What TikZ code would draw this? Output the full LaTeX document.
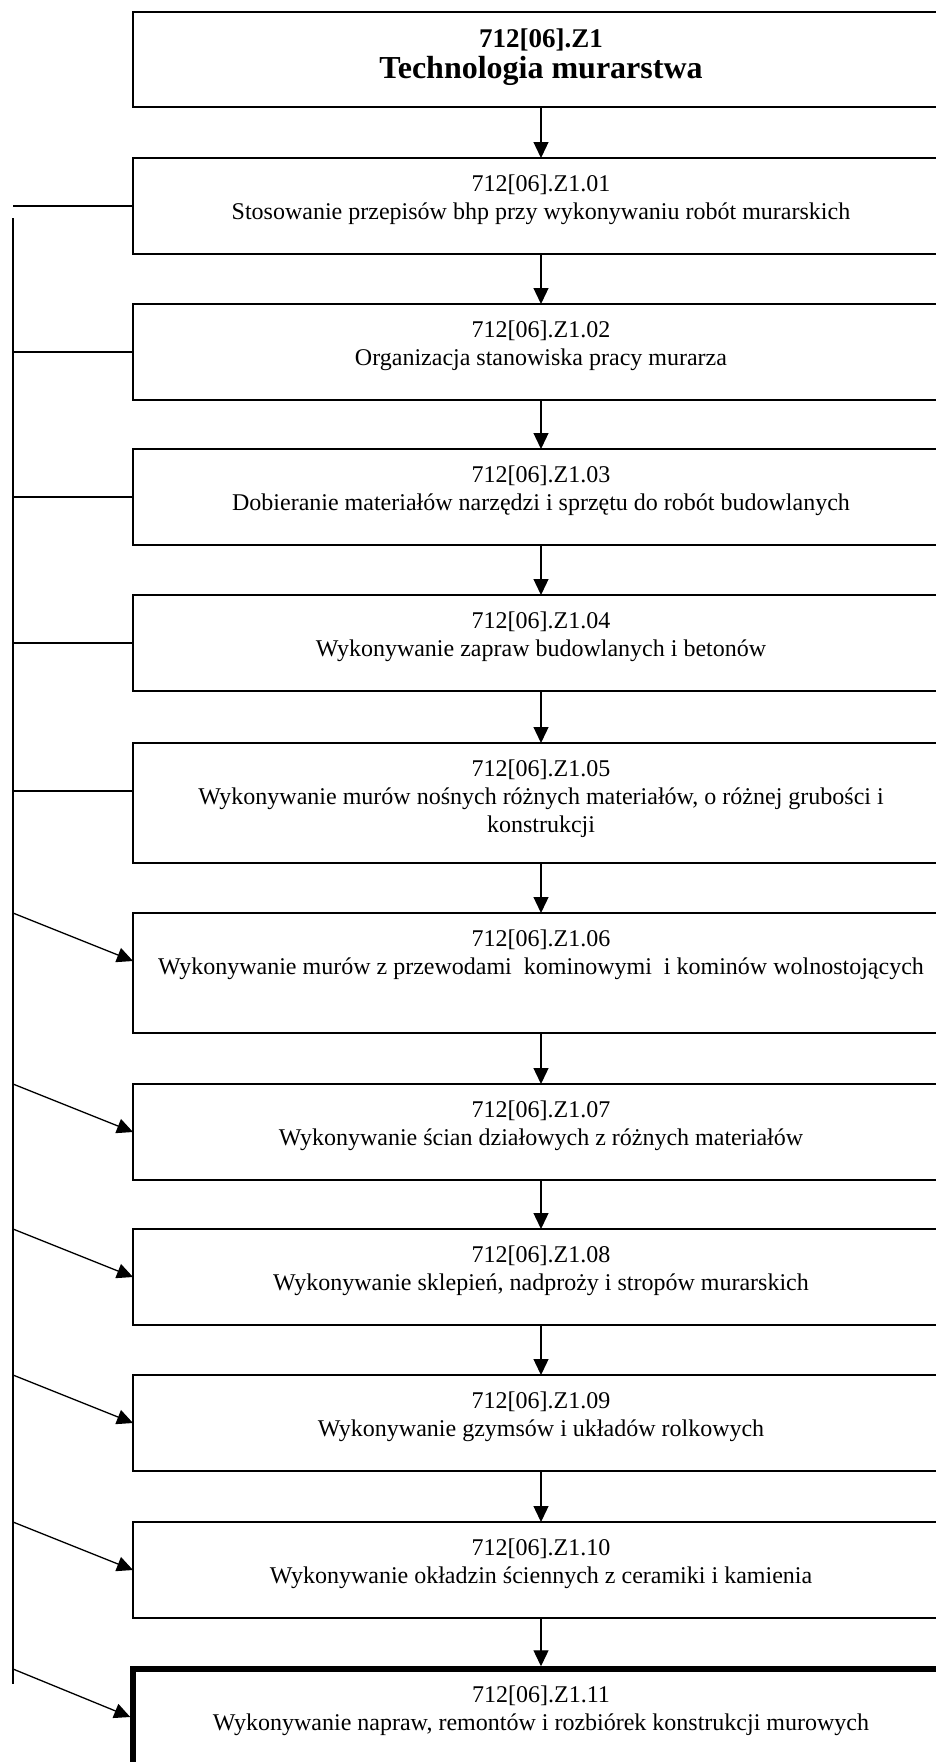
\documentclass[tikz,border=0pt]{standalone}
\usepackage{fontspec}
\setmainfont{Liberation Serif}
\usetikzlibrary{arrows.meta,calc}
\tikzset{
  box/.style={draw, line width=1.5pt, inner sep=0pt, outer sep=0pt, anchor=north west},
  thickbox/.style={box, line width=5.5pt},
  arr/.style={line width=1.3pt, -{Triangle[length=16pt,width=15pt]}},
  link/.style={line width=1.3pt},
}
\newcommand{\bxtext}[2]{\parbox[c][#1][t]{816pt}{\centering\fontsize{24}{28}\selectfont\rule{0pt}{33pt}#2\par}}
\begin{document}
\begin{tikzpicture}[x=1pt,y=-1pt]
\useasboundingbox (0,0) rectangle (936,1762);
\clip (0,0) rectangle (936,1762);

\node[box] (t) at (133,12) {\parbox[c][95pt][t]{816pt}{\centering\bfseries\rule{0pt}{35pt}{\fontsize{27}{27}\selectfont 712[06].Z1}\\\fontsize{32}{31}\selectfont Technologia murarstwa\par}};

\node[box] (b1) at (133,158) {\bxtext{96pt}{712[06].Z1.01\\Stosowanie przepisów bhp przy wykonywaniu robót murarskich}};
\node[box] (b2) at (133,304) {\bxtext{96pt}{712[06].Z1.02\\Organizacja stanowiska pracy murarza}};
\node[box] (b3) at (133,449) {\bxtext{96pt}{712[06].Z1.03\\Dobieranie materiałów narzędzi i sprzętu do robót budowlanych}};
\node[box] (b4) at (133,595) {\bxtext{96pt}{712[06].Z1.04\\Wykonywanie zapraw budowlanych i betonów}};
\node[box] (b5) at (133,743) {\bxtext{120pt}{712[06].Z1.05\\Wykonywanie murów nośnych różnych materiałów, o różnej grubości i\\konstrukcji}};
\node[box] (b6) at (133,913) {\bxtext{120pt}{712[06].Z1.06\\Wykonywanie murów z przewodami~ kominowymi~ i kominów wolnostojących}};
\node[box] (b7) at (133,1084) {\bxtext{96pt}{712[06].Z1.07\\Wykonywanie ścian działowych z różnych materiałów}};
\node[box] (b8) at (133,1229) {\bxtext{96pt}{712[06].Z1.08\\Wykonywanie sklepień, nadproży i stropów murarskich}};
\node[box] (b9) at (133,1375) {\bxtext{96pt}{712[06].Z1.09\\Wykonywanie gzymsów i układów rolkowych}};
\node[box] (b10) at (133,1522) {\bxtext{96pt}{712[06].Z1.10\\Wykonywanie okładzin ściennych z ceramiki i kamienia}};
\node[thickbox] (b11) at (133,1669) {\bxtext{96pt}{712[06].Z1.11\\Wykonywanie napraw, remontów i rozbiórek konstrukcji murowych}};

% vertical chain
\draw[arr] (t.south) -- (b1.north);
\draw[arr] (b1.south) -- (b2.north);
\draw[arr] (b2.south) -- (b3.north);
\draw[arr] (b3.south) -- (b4.north);
\draw[arr] (b4.south) -- (b5.north);
\draw[arr] (b5.south) -- (b6.north);
\draw[arr] (b6.south) -- (b7.north);
\draw[arr] (b7.south) -- (b8.north);
\draw[arr] (b8.south) -- (b9.north);
\draw[arr] (b9.south) -- (b10.north);
\draw[arr] (b10.south) -- ($(b11.north)+(0,-2.75)$);

% left spine
\coordinate (sTop) at (13,218);
\coordinate (sBot) at (13,1684);
\draw[link] (sTop) -- (sBot);

% plain links to boxes 1-5
\coordinate (h1) at (13,206);
\coordinate (h2) at (13,352);
\coordinate (h3) at (13,497);
\coordinate (h4) at (13,643);
\coordinate (h5) at (13,791);
\draw[link] (h1) -- (h1 -| b1.west);
\draw[link] (h2) -- (h2 -| b2.west);
\draw[link] (h3) -- (h3 -| b3.west);
\draw[link] (h4) -- (h4 -| b4.west);
\draw[link] (h5) -- (h5 -| b5.west);

% arrows to boxes 6-11
\foreach \b in {b6,b7,b8,b9,b10}{
  \draw[arr] (sTop |- \b.north) -- ($(\b.north west)+(0,48)$);
}
\draw[arr] (sTop |- b11.north) -- ($(b11.north west)+(-2.75,48)$);
\end{tikzpicture}
\end{document}
